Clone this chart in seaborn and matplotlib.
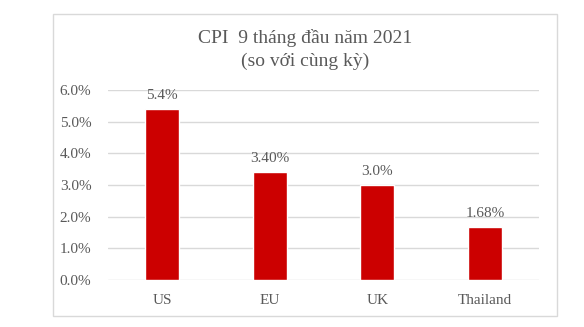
import matplotlib
matplotlib.use("Agg")
import matplotlib.pyplot as plt
from matplotlib.patches import Rectangle
from matplotlib.ticker import FuncFormatter
import seaborn as sns
import pandas as pd

# CPI, first nine months of 2021, year on year (%)
countries = ["US", "EU", "UK", "Thailand"]
cpi = [5.4, 3.40, 3.0, 1.68]
label_decimals = [1, 2, 1, 2]
yticks = [0, 1, 2, 3, 4, 5, 6]

sns.set_style("white")
plt.rcParams["font.family"] = ["Liberation Serif", "DejaVu Serif"]
text_color = "#595959"
bar_color = "#CC0000"

df = pd.DataFrame({"country": countries, "cpi": cpi})

fig = plt.figure(figsize=(5.84, 3.27), dpi=100)
ax = fig.add_axes([0.185, 0.144, 0.738, 0.581])

sns.barplot(data=df, x="country", y="cpi", color=bar_color, width=0.315,
            saturation=1, ax=ax, zorder=3)

ax.set_ylim(0, 6)
ax.set_yticks(yticks)
ax.yaxis.set_major_formatter(FuncFormatter(lambda v, _: f"{v:.1f}%"))
ax.grid(axis="y", color="#D9D9D9", linewidth=1, zorder=0)
ax.set_xlabel("")
ax.set_ylabel("")
for s in ax.spines.values():
    s.set_visible(False)
ax.tick_params(axis="both", length=0, labelsize=11, labelcolor=text_color)
ax.tick_params(axis="y", pad=12)
ax.tick_params(axis="x", pad=10)

for i, (v, d) in enumerate(zip(cpi, label_decimals)):
    ax.annotate(f"{v:.{d}f}%", (i, v), xytext=(0, 5), textcoords="offset points",
                ha="center", va="bottom", fontsize=11, color=text_color)

fig.text(0.522, 0.884, "CPI  9 tháng đầu năm 2021", ha="center", va="center",
         fontsize=14, color=text_color)
fig.text(0.522, 0.812, "(so với cùng kỳ)", ha="center", va="center",
         fontsize=14, color=text_color)

# chart frame
fig.patches.append(Rectangle((53 / 584, 1 - 316 / 327), 504 / 584, 302 / 327,
                             transform=fig.transFigure, fill=False,
                             edgecolor="#D9D9D9", linewidth=1))

fig.savefig("out.png", dpi=100, facecolor="white")
